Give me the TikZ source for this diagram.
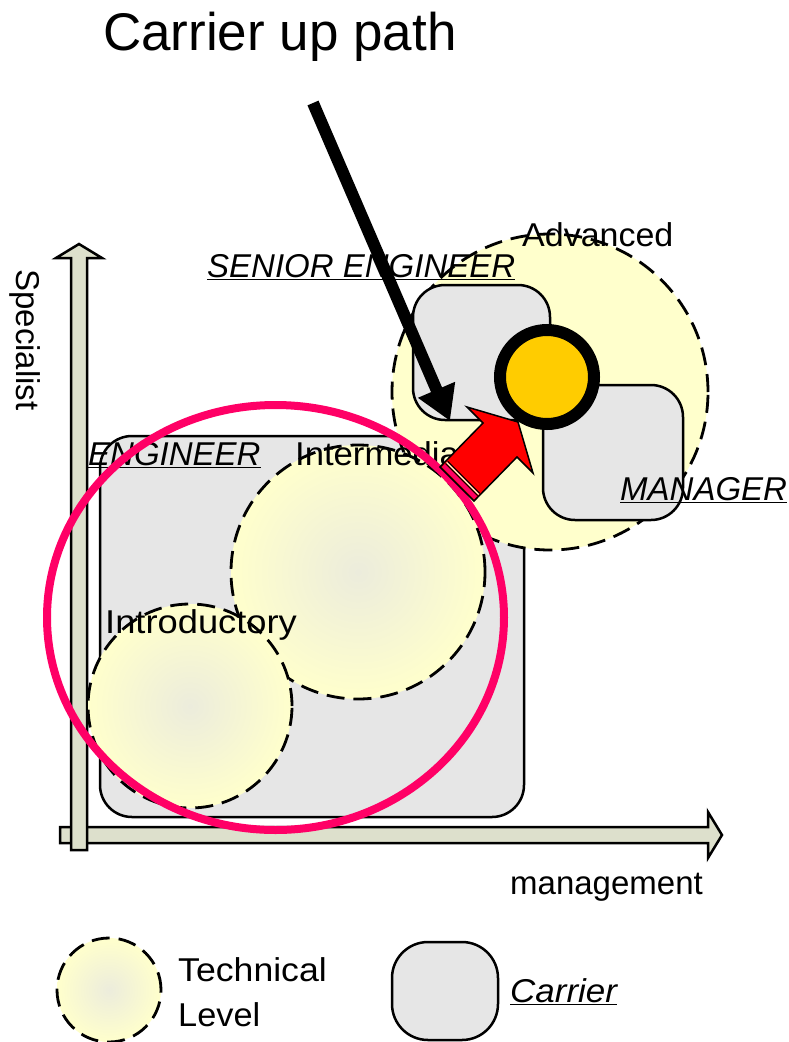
\documentclass[tikz,border=0pt]{standalone}
\usepackage{fontspec}
\setmainfont{Liberation Sans}
\usepackage{tikz}
\usepackage{xcolor}
\usetikzlibrary{arrows.meta, positioning, shapes.geometric}
\definecolor{techyellow}{RGB}{255,255,204}
\definecolor{techcore}{RGB}{236,236,220}
\definecolor{carriergray}{RGB}{230,230,230}
\definecolor{axisgreen}{RGB}{221,224,204}
\definecolor{pathpink}{RGB}{255,0,102}
\definecolor{posorange}{RGB}{255,204,0}
\newcommand{\ulit}[1]{\underline{\textit{#1}}}
\newcommand{\wide}[2]{\scalebox{#1}[1]{#2}}

\begin{document}
\begin{tikzpicture}[x=1pt, y=-1pt,
    carrierbox/.style={draw, fill=carriergray, line width=2.5pt, rounded corners=32pt, inner sep=0pt},
    techlevel/.style={draw, circle, line width=2.8pt, dash pattern=on 18pt off 9pt, inner color=techcore, outer color=techyellow, inner sep=0pt},
    axisbar/.style={draw, fill=axisgreen, line width=2.5pt},
    lbl/.style={font=\fontsize{33}{38}\selectfont, inner sep=0pt, anchor=base west}]
        \useasboundingbox (0,0) rectangle (789,1042);
        % axes
        \draw[axisbar] (60,827) -- (708,827) -- (708,812) -- (722,835) -- (708,858) -- (708,843) -- (60,843) -- cycle;
        \draw[axisbar] (71,850) -- (71,258) -- (56,258) -- (79,244) -- (102,258) -- (87,258) -- (87,850) -- cycle;
        % carrier and levels
        \node[carrierbox, minimum width=424, minimum height=381] (engineer) at (312,626.5) {};
        \node[draw, circle, fill=techyellow, line width=2.8pt, dash pattern=on 18pt off 9pt, minimum size=316, inner sep=0pt] (advanced) at (550,392) {};
        \node[carrierbox, minimum width=137, minimum height=135] (senior) at (481.5,352.5) {};
        \node[carrierbox, minimum width=140, minimum height=135] (manager) at (613,452.5) {};
        \node[draw, circle, fill=posorange, line width=12pt, minimum size=94, inner sep=0pt] (now) at (547,377) {};
        \node[techlevel, minimum size=254] (intermediate) at (358,572) {};
        \node[techlevel, minimum size=204] (introductory) at (190,706) {};
        % labels
        \node[lbl] (advancedlbl) at (522,246) {\wide{1.03}{Advanced}};
        \node[lbl] (seniorlbl) at (207,277) {\ulit{SENIOR ENGINEER}};
        \node[lbl] (engineerlbl) at (88,465) {\ulit{ENGINEER}};
        \node[lbl] (intermediatelbl) at (295,465) {\wide{1.05}{Intermediate}};
        \node[lbl] (managerlbl) at (620,500) {\ulit{MANAGER}};
        \node[lbl] (introductorylbl) at (105,633) {\wide{1.1}{Introductory}};
        \node[lbl] (managementlbl) at (510,894) {management};
        \node[font=\fontsize{33}{38}\selectfont, inner sep=0pt, rotate=-90] (specialistlbl) at (25,340) {Specialist};
        \node[anchor=base west, font=\fontsize{53}{60}\selectfont, inner sep=0pt] (title) at (103,50) {Carrier up path};
        % range of the path
        \node[draw=pathpink, line width=8pt, ellipse, minimum width=457, minimum height=425, inner sep=0pt] (focus) at (275.5,617.5) {};
        % step up
        \draw[fill=red, line width=1.5pt, line join=miter] (440,467) -- (483,423) -- (467,407) -- (518,422) -- (533,473) -- (517,457) -- (474,501) -- cycle;
        \foreach \k/\c/\w in {3.5/pathpink/4, 6.5/black/1, 8/techyellow/1.2, 9.5/black/1}
            \draw[\c, line width=\w pt, shift={(0.707*\k,-0.707*\k)}] (441,468) -- (473,500);
        \coordinate (pathstart) at (313,103);
        \coordinate (pathend) at (450,421);
        \draw[line width=12pt, -{Triangle[length=34pt, width=38pt]}] (pathstart) -- (pathend);
        % legend
        \node[techlevel, minimum size=104] (legendtech) at (109,990) {};
        \node[lbl] (techlbl) at (178,981) {\wide{1.08}{Technical}};
        \node[lbl] (levellbl) at (178,1026) {\wide{1.04}{Level}};
        \node[carrierbox, rounded corners=36pt, minimum width=106, minimum height=98] (legendcarrier) at (445,991) {};
        \node[lbl] (carrierlbl) at (510,1002) {\ulit{\wide{1.06}{Carrier}}};
\end{tikzpicture}
\end{document}
